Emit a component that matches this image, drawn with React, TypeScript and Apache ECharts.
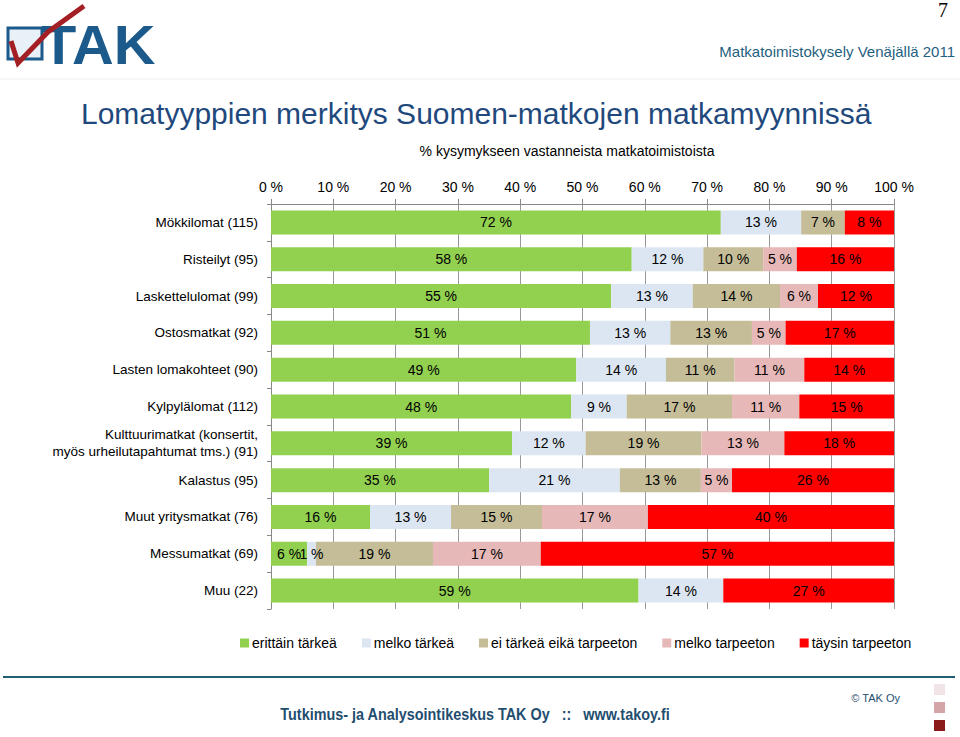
import React, { useEffect, useRef } from "react";
import * as echarts from "echarts";

const categories = [
  "Mökkilomat (115)",
  "Risteilyt (95)",
  "Laskettelulomat (99)",
  "Ostosmatkat (92)",
  "Lasten lomakohteet (90)",
  "Kylpylälomat (112)",
  "Kulttuurimatkat (konsertit,\nmyös urheilutapahtumat tms.) (91)",
  "Kalastus (95)",
  "Muut yritysmatkat (76)",
  "Messumatkat (69)",
  "Muu (22)",
];

const seriesNames = [
  "erittäin tärkeä",
  "melko tärkeä",
  "ei tärkeä eikä tarpeeton",
  "melko tarpeeton",
  "täysin tarpeeton",
];

const erittainTarkea = [72.2, 57.9, 54.6, 51.2, 49.0, 48.2, 38.7, 35.0, 15.9, 5.8, 59.0];
const melkoTarkea = [12.9, 11.5, 13.1, 12.9, 14.4, 8.9, 11.8, 21.0, 13.0, 1.4, 13.6];
const eiTarkea = [7.0, 9.6, 14.0, 13.1, 11.0, 16.9, 18.6, 13.0, 14.6, 18.8, 0];
const melkoTarpeeton = [0, 5.4, 6.1, 5.4, 11.2, 10.8, 13.3, 5.0, 17.0, 17.3, 0];
const taysinTarpeeton = [7.9, 15.6, 12.2, 17.4, 14.4, 15.2, 17.6, 26.0, 39.5, 56.7, 27.4];

const seriesValues = [erittainTarkea, melkoTarkea, eiTarkea, melkoTarpeeton, taysinTarpeeton];
const seriesColors = ["#92d050", "#dce6f2", "#c4bd97", "#e6b9b8", "#ff0000"];

const FONT = '"Liberation Sans", Arial, sans-serif';

export default function App() {
  const ref = useRef<HTMLDivElement>(null);

  useEffect(() => {
    if (!ref.current) return;
    const chart = echarts.init(ref.current, undefined, { renderer: "svg" });

    const series = seriesNames.map((name, i) => ({
      name,
      type: "bar",
      stack: "total",
      barWidth: 24,
      data: seriesValues[i],
      itemStyle: { color: seriesColors[i] },
      label: {
        show: true,
        position: "inside",
        color: "#000",
        fontSize: 14,
        fontFamily: FONT,
        formatter: (p: any) => (p.value > 0 ? Math.round(p.value) + " %" : ""),
      },
    }));

    chart.setOption({
      animation: false,
      backgroundColor: "#ffffff",
      textStyle: { fontFamily: FONT },
      grid: { left: 271, right: 66, top: 204, bottom: 128, containLabel: false },
      legend: {
        left: 235,
        top: 631,
        itemWidth: 9,
        itemHeight: 9,
        itemGap: 25,
        icon: "rect",
        textStyle: { fontSize: 14, color: "#000", fontFamily: FONT, padding: [0, 0, 0, -2] },
        data: seriesNames,
      },
      xAxis: {
        type: "value",
        position: "top",
        min: 0,
        max: 100,
        interval: 10,
        axisLine: { show: true, lineStyle: { color: "#888" } },
        axisTick: { show: true, length: 5, lineStyle: { color: "#888" } },
        axisLabel: { formatter: "{value} %", fontSize: 14, color: "#000", fontFamily: FONT, margin: 10 },
        splitLine: { show: true, lineStyle: { color: "#999", width: 1 } },
      },
      yAxis: {
        type: "category",
        inverse: true,
        data: categories,
        axisLine: { show: true, lineStyle: { color: "#888" } },
        axisTick: { show: true, length: 4, lineStyle: { color: "#888" } },
        axisLabel: { fontSize: 13.5, color: "#000", fontFamily: FONT, margin: 13, lineHeight: 17, align: "right" },
      },
      series,
      graphic: [
        // logo
        { type: "rect", shape: { x: 8, y: 28, width: 34, height: 31 }, style: { fill: "#e8f0f8", stroke: "#1b5a8a", lineWidth: 3 } },
        { type: "text", x: 41, y: 45, scaleX: 1.05, style: { text: "TAK", x: 0, y: 0, font: `900 55px ${FONT}`, fill: "#1b5a8a", textVerticalAlign: "middle" } },
        { type: "polyline", shape: { points: [[11, 41], [18, 63], [48, 32], [84, 6]] }, style: { stroke: "#a31f24", lineWidth: 5, fill: "none" } },
        // page number
        { type: "text", style: { text: "7", x: 948, y: 0, font: `20px "Liberation Serif", serif`, fill: "#000", textAlign: "right", textVerticalAlign: "top" } },
        // header
        { type: "text", style: { text: "Matkatoimistokysely Venäjällä 2011", x: 955, y: 51, font: `15px ${FONT}`, fill: "#1f5f7f", textAlign: "right", textVerticalAlign: "middle" } },
        { type: "line", shape: { x1: 0, y1: 79, x2: 960, y2: 79 }, style: { stroke: "#eeeeee", lineWidth: 1 } },
        // title
        { type: "text", style: { text: "Lomatyyppien merkitys Suomen-matkojen matkamyynnissä", x: 81, y: 113, font: `30px ${FONT}`, fill: "#1f497d", textVerticalAlign: "middle" } },
        { type: "text", style: { text: "% kysymykseen vastanneista matkatoimistoista", x: 567, y: 151, font: `14px ${FONT}`, fill: "#000", textAlign: "center", textVerticalAlign: "middle" } },
        // footer
        { type: "line", shape: { x1: 3, y1: 677, x2: 955, y2: 677 }, style: { stroke: "#1f5f6f", lineWidth: 2 } },
        { type: "text", x: 475, y: 714, scaleX: 0.9, style: { text: "Tutkimus- ja Analysointikeskus TAK Oy   ::   www.takoy.fi", x: 0, y: 0, font: `bold 16px ${FONT}`, fill: "#1f4e6f", textAlign: "center", textVerticalAlign: "middle" } },
        { type: "text", style: { text: "© TAK Oy", x: 900, y: 698, font: `11px ${FONT}`, fill: "#1f4e6f", textAlign: "right", textVerticalAlign: "middle" } },
        { type: "rect", shape: { x: 934, y: 684, width: 11, height: 11 }, style: { fill: "#f0e4e6" } },
        { type: "rect", shape: { x: 934, y: 702, width: 11, height: 11 }, style: { fill: "#d4a5a8" } },
        { type: "rect", shape: { x: 934, y: 720, width: 11, height: 11 }, style: { fill: "#8b1a1a" } },
      ],
    });

    return () => chart.dispose();
  }, []);

  return (
    <div
      ref={ref}
      style={{ position: "fixed", left: 0, top: 0, width: 960, height: 737, background: "#fff" }}
    />
  );
}
